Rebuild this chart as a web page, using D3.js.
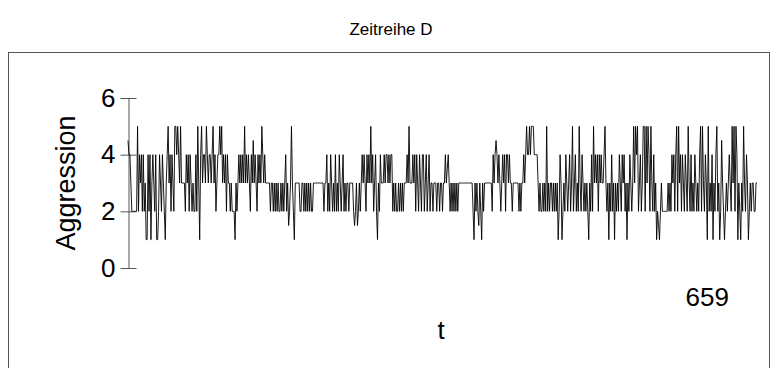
<!DOCTYPE html>
<html>
<head>
<meta charset="utf-8">
<script src="https://cdn.jsdelivr.net/npm/d3@7"></script>
<style>
  body { margin: 0; background: #fff; }
  text { font-family: "Liberation Sans", Arial, sans-serif; fill: #000; }
</style>
</head>
<body>
<div id="main-frame"></div>
<script>
const title = "Zeitreihe D";
const yLabel = "Aggression";
const xLabel = "t";
const yTicks = [0, 2, 4, 6];
const xEndLabel = "659";

// Aggression values, t = 1..659 (roughly 60 points per row)
const aggression = [
  4.5,4,4,3,2,2,2,2,2,2, 5,2,4,3,4,2,4,2,3,1, 1,4,2,4,1,3,4,3,2,4, 1,1,2,4,3,2,4,3,2,1, 3,4,5,3,4,2,4,3,2,5, 5,4,5,4,3,5,3,3,3,3,
  2,4,3,4,2,4,3,2,3,2, 2,4,2,5,3,1,4,5,3,4, 4,3,5,4,3,4,4,3,4,5, 3,4,2,3,4,4,5,4,5,3, 4,3,4,2,4,3,3,2,3,2, 2,2,1,3,2,3,4,3,4,3,
  4,3,5,3,4,3,4,3,2,4, 3,4.5,3,4,3,2,4,3,4,3, 5,4,3,4,3,3,3,3,3,2, 3,3,2,3,2,3,2,3,2,2, 3,2,3,2,3,4,2,3,1.5,2, 3,5,3,2,1,3,3,3,3,3,
  2,2,3,3,2,3,2,3,2,3, 2,3,2,2,3,3,3,3,3,3, 3,3,3,3,3,2,3,3,4,2, 3,2,4,3,2,3,2,4,2,3, 2,4,3,2,3,4,2,3,2,3, 3,2,3,3,3,3,2,1.5,2,3,
  1.5,2,3,2,3,4,3,4,3,2,4,3,4,3, 5, 3,4,2,3,4,2, 1, 3,2,4,3,3,3, 4,3,4,4,3,4,3,4,4, 2,3,2,3,2,2,3,2,3,2,3,2,3,3, 3,4,3, 5, 3,3,3,4,3,
  4,2,4,3,2,4,3,2,4,4,2,3,4,2,3,4,2,3,3,2, 3,3,3,2,3,3,2,3,3,2,3,3, 4,3,3.5,4,3,2, 3,2,3,2,3,2,3,2, 3,3,3,3,3,3,3,3,3,3,3,3,3,3,
  3,2,1,3,2,3,2,1.5,3,2,1,3,2,3,3,3, 3,3,3,3,3,2, 4,3,4,4.5,4,3, 4,3,2,3,4,3,4,2,4,4,3,4,3, 3,2,3,3,3,3,3,3,2, 3,2,3,3,4,3,4,5,4,4,
  5,4,5,5,5,4,4,4,4,3,2,3,2, 2,3,2,3,2,5,2,3,2,3,3,2,3,2,3,2,3,1, 2,4,3,1,2,3,2,4,3,2,3,4,2,3,5, 2,3,4,2,3,2,5,3,2,4,3,2,3,2,
  3,2,1,3,2,4,2,5,3,4,3,4,2,4,3, 4,3,3,4,5,3,2,3,1,3,2,4,2,3,1, 3,2,3,2,4,3,2,4,3,4,2,3,1,3,2, 4,3,2,3,5,3,5,4,5,2,3,4,2,3,5,
  5,2,5,3,5,4,2,5,3,2,4,2,3,1,2, 1.5,1,2,3,2,2,2,2,2,2,3,2,3,2,4, 3,4,2,4,5,2,5,3,4,2,4,3,2,4,3, 2,5,3,2,4,2,3,2,4,3,2,3,2,4,5,
  2,5,3,2,4,3,1,5,2,3,2,4,1,3,2, 4,5,2,3,1,2,4.5,3,2,1,2,3,2,3,4, 3,2,5,3,5,2,5,4,1,3,2,1,3,2,5, 3,2,4,3,1,2,3,2,3,3,2,2,3,3
];

const W = 782, H = 368;
const plot = { left: 128, right: 757, top: 98, bottom: 268 };

const svg = d3.select("#main-frame")
  .append("svg")
  .attr("width", W)
  .attr("height", H);

// outer frame
svg.append("rect")
  .attr("x", 8.5)
  .attr("y", 52.5)
  .attr("width", 761)
  .attr("height", 340)
  .attr("fill", "none")
  .attr("stroke", "#555")
  .attr("stroke-width", 1);

svg.append("text")
  .attr("x", 391)
  .attr("y", 35)
  .attr("text-anchor", "middle")
  .style("font-size", "17px")
  .text(title);

const xScale = d3.scaleLinear()
  .domain([1, aggression.length])
  .range([plot.left, plot.right]);

const yScale = d3.scaleLinear()
  .domain([0, 6])
  .range([plot.bottom, plot.top]);

const yAxis = d3.axisLeft(yScale)
  .tickValues(yTicks)
  .tickFormat(d3.format("d"))
  .tickSizeInner(8)
  .tickSizeOuter(0)
  .tickPadding(6);

const gy = svg.append("g")
  .attr("transform", `translate(${plot.left + 0.5}, 0)`)
  .call(yAxis);
gy.select(".domain").attr("stroke", "#555");
gy.selectAll(".tick line").attr("stroke", "#555").attr("x2", -8).attr("x1", 8);
gy.selectAll(".tick text")
  .style("font-size", "26px")
  .style("font-family", "'Liberation Sans', Arial, sans-serif")
  .attr("x", -13);

svg.append("text")
  .attr("transform", `translate(75, ${(plot.top + plot.bottom) / 2}) rotate(-90)`)
  .attr("text-anchor", "middle")
  .style("font-size", "27px")
  .text(yLabel);

const line = d3.line()
  .x((d, i) => xScale(i + 1))
  .y(d => yScale(d));

svg.append("path")
  .datum(aggression)
  .attr("d", line)
  .attr("fill", "none")
  .attr("stroke", "#000")
  .attr("stroke-width", 0.9);

svg.append("text")
  .attr("x", 729)
  .attr("y", 306)
  .attr("text-anchor", "end")
  .style("font-size", "26px")
  .text(xEndLabel);

svg.append("text")
  .attr("x", 441)
  .attr("y", 339)
  .attr("text-anchor", "middle")
  .style("font-size", "26px")
  .text(xLabel);
</script>
</body>
</html>
